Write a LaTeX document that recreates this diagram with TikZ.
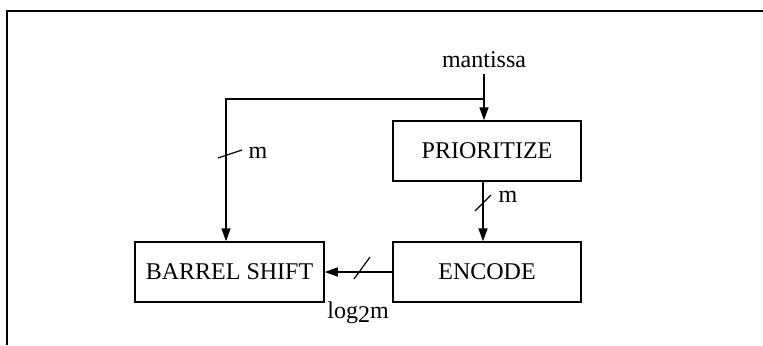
\documentclass[tikz,border=0pt]{standalone}
\usepackage{fontspec}
\setmainfont{Liberation Serif}
\usetikzlibrary{arrows.meta,calc}
\tikzstyle{block}=[draw,line width=0.75pt,minimum width=94pt,minimum height=30pt,inner sep=0pt]
\tikzstyle{bus}=[line width=0.75pt,-{Triangle[length=6.5pt,width=4.5pt]}]
\newcommand{\busmark}[3]{\draw[line width=0.6pt] (#1) ++(-#2,#3) -- ++(2*#2,-2*#3);}

\begin{document}
\begin{tikzpicture}[x=0.5pt,y=-0.5pt,every node/.style={font=\fontsize{12}{14}\selectfont}]

    \useasboundingbox (0,0) rectangle (763,345);
    \draw[line width=1pt] (6.5,345) -- (6.5,11) -- (763,11);

    \node[anchor=base] (mant) at (484,67) {mantissa};
    \node[block] (prio) at (487,151) {PRIORITIZE};
    \node[block] (enc) at (487,272) {ENCODE};
    \node[block,minimum width=94.5pt] (barrel) at (229.5,272) {BARREL SHIFT};

    \coordinate (split) at (484,99);
    \coordinate (bend) at (226,99);

    \draw[bus] (mant.south) -- (mant.south |- prio.north);
    \draw[bus] (split) -- (bend) -- (bend |- barrel.north);
    \draw[bus] (483,0 |- prio.south) -- (483,0 |- enc.north);
    \draw[bus] (enc.west) -- (barrel.east);

    % bus widths
    \coordinate (w1) at (230,154);
    \coordinate (w2) at (483,203);
    \coordinate (w3) at (362,268);
    \busmark{w1}{12}{4}
    \busmark{w2}{8}{8}
    \busmark{w3}{8}{11}
    \node (m1) at (258,153) {m};
    \node (m2) at (508,197) {m};
    \node (lg) at (358,313) {log\lower0.35ex\hbox{2}m};
\end{tikzpicture}
\end{document}
